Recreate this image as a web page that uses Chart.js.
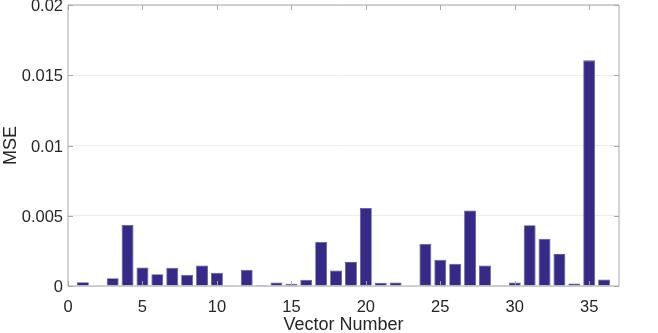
<!DOCTYPE html>
<html>
<head>
<meta charset="utf-8">
<script src="https://cdn.jsdelivr.net/npm/chart.js@4/dist/chart.umd.min.js"></script>
<style>
  html, body { margin: 0; padding: 0; background: #fff; }
  #wrap { width: 658px; height: 333px; }
</style>
</head>
<body>
<div id="wrap"><canvas id="barChart" width="658" height="333"></canvas></div>
<script>
"use strict"
// data
const vectorNumbers = [1,2,3,4,5,6,7,8,9,10,11,12,13,14,15,16,17,18,19,20,21,22,23,24,25,26,27,28,29,30,31,32,33,34,35,36];
const mseValues = [0.00027,0.00002,0.00056,0.00434,0.00132,0.00084,0.0013,0.0008,0.00146,0.00094,0.00001,0.00116,
                   0.00008,0.00025,0.00016,0.00044,0.00313,0.0011,0.0017,0.00556,0.00023,0.00025,0.00003,0.00299,
                   0.00187,0.00159,0.00537,0.00146,0.00001,0.00025,0.00432,0.00337,0.00227,0.00018,0.01606,0.00046];
const xTicks = [0, 5, 10, 15, 20, 25, 30, 35];
const yTicks = [0, 0.005, 0.01, 0.015, 0.02];

const points = vectorNumbers.map((n, i) => ({x: n, y: mseValues[i]}));

//box + inward ticks like matlab
const boxPlugin = {
    id: 'boxTicks',
    afterDraw(chart) {
        const ctx = chart.ctx;
        const a = chart.chartArea;
        const xs = chart.scales.x;
        const ys = chart.scales.y;
        ctx.save();
        ctx.strokeStyle = '#a8a8a8';
        ctx.lineWidth = 1;
        ctx.beginPath();
        ctx.moveTo(a.left, a.top);
        ctx.lineTo(a.right, a.top);
        ctx.lineTo(a.right, a.bottom);
        ctx.lineTo(a.left, a.bottom);
        ctx.lineTo(a.left, a.top);
        xs.ticks.forEach(t => {
            const px = Math.round(xs.getPixelForValue(t.value)) + 0.5;
            ctx.moveTo(px, a.bottom); ctx.lineTo(px, a.bottom - 5);
            ctx.moveTo(px, a.top); ctx.lineTo(px, a.top + 5);
        });
        ys.ticks.forEach(t => {
            const py = Math.round(ys.getPixelForValue(t.value)) + 0.5;
            ctx.moveTo(a.left, py); ctx.lineTo(a.left + 5, py);
            ctx.moveTo(a.right, py); ctx.lineTo(a.right - 5, py);
        });
        ctx.stroke();
        ctx.restore();
    }
};

const ctx = document.getElementById('barChart').getContext('2d');

window.myBarChart = new Chart(ctx, {
    type: 'bar',
    data: {
        datasets: [{
            label: 'MSE',
            data: points,
            backgroundColor: '#352a87',
            borderColor: '#5c5890',
            borderWidth: 0.8,
            barPercentage: 0.8,
            categoryPercentage: 1.0
        }]
    },
    options: {
        responsive: false,
        animation: false,
        layout: { padding: { top: 5, right: 39, left: 0, bottom: 0 } },
        plugins: {
            legend: { display: false },
            tooltip: { enabled: false }
        },
        scales: {
            x: {
                type: 'linear',
                min: 0,
                max: 37,
                offset: false,
                grid: { display: false },
                border: { display: false },
                afterBuildTicks(scale) {
                    scale.ticks = xTicks.map(v => ({value: v}));
                },
                ticks: {
                    color: '#262626',
                    font: { family: 'Liberation Sans', size: 16.5 },
                    padding: 4,
                    maxRotation: 0,
                    autoSkip: false,
                    callback: v => String(v)
                },
                title: {
                    display: true,
                    text: 'Vector Number',
                    color: '#262626',
                    font: { family: 'Liberation Sans', size: 18 },
                    padding: { top: 4, bottom: -3 }
                },
                afterFit(scale) {
                    scale.height = 47;
                    scale.paddingLeft = 0;
                    scale.paddingRight = 0;
                }
            },
            y: {
                min: 0,
                max: 0.02,
                grid: { color: '#ececec', drawTicks: false },
                border: { display: false },
                afterBuildTicks(scale) {
                    scale.ticks = yTicks.map(v => ({value: v}));
                },
                ticks: {
                    color: '#262626',
                    font: { family: 'Liberation Sans', size: 16.5 },
                    padding: 5,
                    labelOffset: 1.5,
                    callback: v => String(v)
                },
                title: {
                    display: true,
                    text: 'MSE',
                    color: '#262626',
                    font: { family: 'Liberation Sans', size: 18 },
                    padding: { top: 0, bottom: 4 }
                },
                afterFit(scale) {
                    scale.width = 68;
                    scale.paddingTop = 0;
                    scale.paddingBottom = 0;
                }
            }
        }
    },
    plugins: [boxPlugin]
});
</script>
</body>
</html>
